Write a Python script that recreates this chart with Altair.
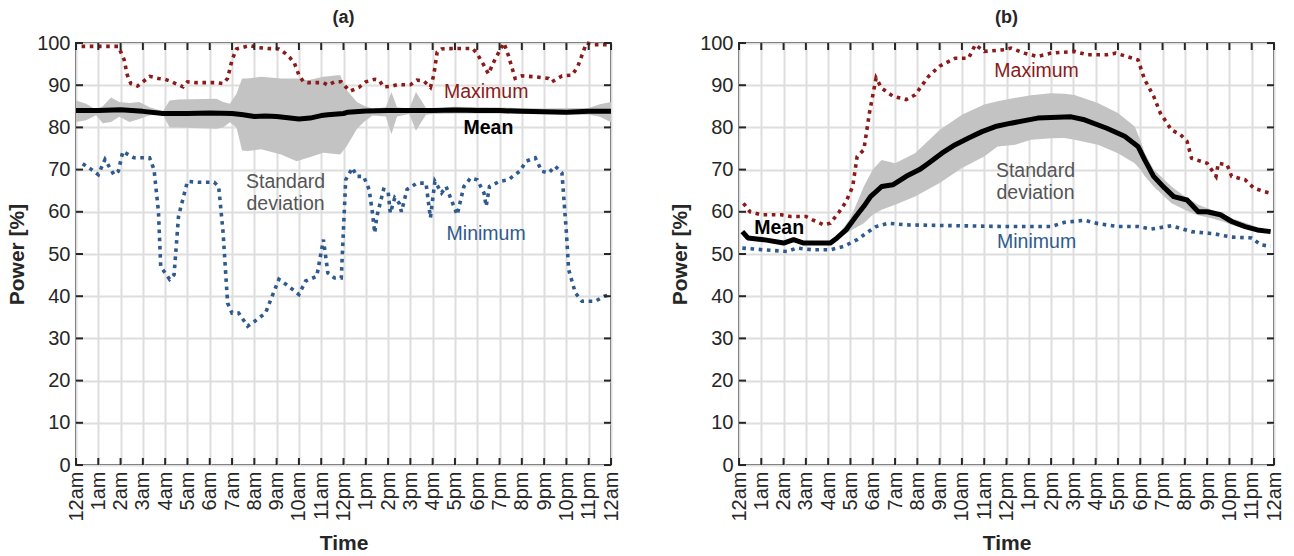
import json
import altair as alt
import pandas as pd

FONT = "Liberation Sans"
INK = "#262626"
RED = "#8b1a1a"
BLUE = "#2f5a8d"
BAND = "#c3c3c3"
GREY_TXT = "#555555"

tick_labels = ["12am", "1am", "2am", "3am", "4am", "5am", "6am", "7am", "8am", "9am",
               "10am", "11am", "12pm", "1pm", "2pm", "3pm", "4pm", "5pm", "6pm", "7pm",
               "8pm", "9pm", "10pm", "11pm", "12am"]
hour_ticks = list(range(25))
power_ticks = list(range(0, 101, 10))

# ---------------- panel (a) ----------------
max_a_h = [0.25, 1.0, 1.9, 2.16, 2.3, 2.46, 2.76, 3.0, 3.3, 3.7,
           4.0, 4.3, 4.8, 5.0, 5.4, 6.3, 6.6, 6.8, 7.0, 7.2,
           7.5, 7.8, 8.2, 8.6, 9.1, 9.4, 9.6, 9.8, 10.0, 10.2,
           10.4, 11.1, 11.3, 11.6, 11.9, 12.1, 12.3, 12.7, 13.0, 13.4,
           13.6, 13.8, 14.1, 14.4, 15.0, 15.3, 15.6, 15.9, 16.05, 16.2,
           16.4, 17.0, 17.8, 18.0, 18.3, 18.5, 18.8, 19.2, 19.4, 19.7,
           20.0, 20.6, 21.2, 21.35, 21.8, 22.25, 22.5, 22.9, 23.2, 24.0]
max_a_v = [99.2, 99.2, 99.2, 96, 92.4, 90.4, 89.8, 90.8, 92.1, 91.6,
           91.4, 90.8, 89.6, 90.8, 90.6, 90.6, 90.4, 91.6, 96, 98.6,
           99.0, 99.4, 98.9, 98.7, 98.6, 97.5, 96.5, 95.2, 92.4, 90.8,
           90.6, 90.6, 90, 90.8, 90.8, 89.6, 88.6, 89.5, 90.8, 91.4,
           91.2, 89.6, 89.7, 90.1, 90.1, 91.2, 91.0, 89.5, 92.4, 97.8,
           98.6, 98.7, 98.7, 97.4, 94.7, 92.7, 96.2, 100, 97, 91.6,
           92.2, 92, 91.6, 90.8, 92.2, 92.4, 94.3, 100, 99.6, 99.6]

min_a_h = [0.3, 0.7, 1.0, 1.3, 1.7, 1.9, 2.1, 2.6, 3.0, 3.3,
           3.5, 3.7, 3.8, 4.2, 4.4, 4.6, 5.0, 5.5, 6.2, 6.4,
           6.6, 6.8, 7.0, 7.3, 7.7, 8.0, 8.5, 8.8, 9.1, 9.5,
           10.0, 10.3, 10.8, 11.1, 11.3, 11.6, 11.9, 12.1, 12.4, 12.6,
           12.9, 13.15, 13.3, 13.4, 13.5, 13.8, 14.0, 14.1, 14.3, 14.5,
           14.6, 14.85, 15.3, 15.7, 15.9, 16.1, 16.4, 16.6, 17.1, 17.4,
           17.7, 18.0, 18.3, 18.4, 18.55, 19.0, 19.4, 19.9, 20.2, 20.6,
           20.9, 21.2, 21.5, 21.8, 22.0, 22.1, 22.4, 22.7, 23.3, 23.7,
           24.0]
min_a_v = [71.4, 70, 68.8, 72.4, 68.8, 69.6, 74.3, 72.8, 72.8, 72.8,
           70, 60, 47, 44, 45.1, 59, 67.2, 67, 67, 66,
           55, 38.4, 36, 36, 32.9, 34, 36, 40, 44, 42.5,
           40.4, 43.6, 44.7, 53.4, 45.5, 44.3, 44.3, 67.6, 70.4, 68.4,
           68.4, 65.3, 59.7, 55, 59, 65.3, 64.9, 59.7, 63.3, 62,
           60, 65.3, 66.8, 66.8, 58.6, 67.2, 64.5, 66, 59.3, 66,
           68, 67.6, 64.5, 61.3, 66, 67.2, 67.6, 69.6, 72, 72.8,
           69.6, 69.2, 70.8, 69.2, 55, 46.3, 40.8, 38.8, 38.8, 40,
           40.4]

mean_a_h = [0, 1, 2, 3, 3.9, 5, 6, 7, 7.5, 8, 8.5, 9, 9.5, 10, 10.5, 11, 11.3,
            12, 12.2, 13, 14, 15, 16, 17, 18, 19, 20, 21, 22, 23, 24]
mean_a_v = [84, 84, 84.2, 83.8, 83.3, 83.3, 83.4, 83.3, 83.0, 82.6, 82.7, 82.6, 82.3,
            82.0, 82.2, 82.8, 83.0, 83.3, 83.6, 83.9, 84, 84, 84, 84.1, 84, 84,
            83.8, 83.7, 83.6, 83.8, 83.8]

band_a_h = [0, 0.45, 0.9, 1.2, 1.57, 1.94, 2.4, 2.84, 3.3, 3.9,
            4.2, 4.6, 6.3, 6.6, 6.9, 7.2, 7.45, 7.7, 8.3, 9.2,
            9.9, 10.4, 11.1, 11.85, 12.15, 12.6, 12.9, 13.3, 13.9, 14.15,
            14.4, 14.95, 15.25, 15.7, 16.0, 17, 19, 21, 23, 23.5,
            24]
band_a_lo = [81.3, 81.7, 82.9, 81.0, 81.3, 82.5, 81.3, 82.0, 82.9, 83.0,
             80.0, 80.0, 79.7, 80.0, 81.2, 80.0, 74.5, 74.4, 74.8, 73.6,
             72.0, 72.8, 74.0, 73.6, 75.6, 79.6, 81.2, 82.8, 82.6, 78.4,
             82.6, 83.2, 79.2, 83.0, 83.2, 83.3, 83.3, 83.1, 83.0, 82.5,
             81.2]
band_a_hi = [86.4, 85.6, 84.2, 85.0, 87.1, 86.0, 85.8, 86.0, 84.8, 83.8,
             86.4, 86.6, 86.8, 86.0, 85.6, 88.0, 91.6, 91.6, 92.0, 91.6,
             91.6, 91.2, 92.0, 92.4, 88.8, 86.0, 85.2, 84.4, 84.8, 88.4,
             84.8, 84.4, 88.4, 84.6, 84.4, 84.9, 84.7, 84.5, 84.6, 85.5,
             86.0]

# ---------------- panel (b) ----------------
max_b_h = [0.2, 0.5, 1.0, 1.9, 2.3, 3.0, 3.3, 3.8, 4.1, 4.5,
           4.8, 5.1, 5.3, 5.6, 5.85, 6.15, 6.4, 6.9, 7.5, 7.9,
           8.5, 9.0, 9.7, 10.3, 10.6, 11.0, 11.9, 12.2, 12.8, 13.4,
           14.0, 15.05, 15.65, 16.5, 16.9, 17.9, 18.2, 18.6, 18.9, 19.4,
           19.8, 20.1, 20.3, 21.0, 21.4, 21.5, 21.9, 22.1, 22.7, 23.1,
           23.55, 23.85]
max_b_v = [62, 60, 59.3, 59.3, 58.9, 58.9, 58.1, 56.9, 57.3, 60,
           62.4, 66, 73.1, 74.7, 83.4, 91.7, 89.3, 87.4, 86.6, 87.7,
           92.1, 94.5, 96.4, 96.4, 99.6, 98, 98.4, 98.8, 97.6, 96.8,
           97.6, 98, 97.2, 97.2, 97.6, 96, 91.3, 87.4, 83.4, 79.4,
           78.3, 76.7, 72.7, 71.5, 68.4, 71.5, 71.1, 68.4, 67.6, 65.6,
           64.8, 64.4]

min_b_h = [0.15, 1.1, 2.15, 2.6, 3.3, 4.1, 4.7, 5.3, 5.7, 6.15,
           6.7, 7.5, 12.0, 14.0, 14.6, 15.5, 16.1, 17.0, 17.9, 18.5,
           19.4, 20.3, 21.3, 22.1, 23.0, 23.4, 23.85]
min_b_v = [51.4, 51, 50.6, 51.4, 51, 51, 51.8, 53.4, 54.9, 56.5,
           57.3, 56.9, 56.5, 56.5, 57.5, 58, 57.2, 56.5, 56.5, 55.9,
           56.7, 55.3, 54.8, 54, 53.8, 52.2, 51.8]

mean_b_h = [0.15, 0.4, 1.1, 2.0, 2.45, 2.9, 4.1, 4.4, 4.8, 5.3,
            5.6, 5.9, 6.4, 6.9, 7.5, 8.1, 8.5, 9.1, 9.7, 10.3,
            10.9, 11.5, 12.2, 13.4, 14.9, 15.5, 16.5, 17.3, 17.9, 18.2,
            18.6, 19.1, 19.5, 20.1, 20.6, 21.0, 21.6, 22.1, 22.7, 23.25,
            23.85]
mean_b_v = [55.3, 53.8, 53.4, 52.6, 53.4, 52.6, 52.6, 53.8, 55.7, 59.3,
            61.3, 63.6, 66, 66.4, 68.4, 70, 71.5, 73.9, 75.9, 77.5,
            79, 80.2, 81, 82.2, 82.5, 81.8, 79.8, 77.9, 75.5, 72.3,
            68.4, 65.6, 63.6, 62.8, 60, 60, 59.3, 57.7, 56.5, 55.7,
            55.3]

band_b_h = [4.3, 5.0, 5.6, 6.0, 6.4, 7.0, 7.9, 9.0, 10.0, 11.0,
            11.6, 12.4, 13.1, 14.0, 14.6, 15.05, 16.1, 17.0, 17.75, 18.0,
            18.2, 18.6, 19.4, 20.0, 20.3, 20.6, 21.2, 21.8, 22.1, 23.0,
            23.55]
band_b_lo = [53, 55.5, 57.3, 59.3, 60.5, 61.7, 63.6, 66.8, 70.4, 73.1,
             75.5, 75.9, 77.1, 77.4, 77.5, 77.1, 75.9, 73.9, 71.5, 70,
             68.5, 66, 62, 60.5, 59.7, 59.2, 58.5, 57.5, 56.9, 55.7,
             55.3]
band_b_hi = [53.5, 58.5, 66, 70, 72.3, 71.5, 73.9, 79.4, 83, 85.4,
             86.2, 87, 87.6, 88.1, 88.0, 87.7, 85.8, 83.4, 80.2, 77,
             74, 70, 66, 63.6, 62.7, 61.7, 60.5, 59.3, 58.5, 56.9,
             55.7]

# annotation texts per panel
notes_a_text = ["Maximum", "Mean", "Standard\ndeviation", "Minimum"]
notes_a_h = [18.4, 18.5, 9.4, 18.4]
notes_a_v = [88.4, 79.9, 67.1, 54.7]
notes_b_text = ["Maximum", "Mean", "Standard\ndeviation", "Minimum"]
notes_b_h = [13.35, 1.8, 13.3, 13.35]
notes_b_v = [93.4, 56.2, 69.6, 52.8]
notes_colors = [RED, "black", GREY_TXT, BLUE]
notes_weights = ["normal", "bold", "normal", "normal"]

W, H = 535, 422
TICK = 7
label_expr = json.dumps(tick_labels) + "[datum.value]"


def X(field):
    return alt.X(f"{field}:Q",
                 scale=alt.Scale(domain=[0, 24], nice=False, zero=False),
                 axis=alt.Axis(values=hour_ticks, labelExpr=label_expr, labelAngle=270,
                               title="Time"))


def Y(field):
    return alt.Y(f"{field}:Q",
                 scale=alt.Scale(domain=[0, 100], nice=False),
                 axis=alt.Axis(values=power_ticks, title="Power [%]"))


def panel(title, mx_h, mx_v, mn_h, mn_v, me_h, me_v, bd_h, bd_lo, bd_hi, nt_text, nt_h, nt_v):
    band = alt.Chart(pd.DataFrame({"h": bd_h, "lo": bd_lo, "hi": bd_hi})).mark_area(
        color=BAND, opacity=1).encode(x=X("h"), y=Y("lo"), y2="hi")
    mx = alt.Chart(pd.DataFrame({"h": mx_h, "v": mx_v})).mark_line(
        color=RED, strokeWidth=3.6, strokeDash=[3.6, 4.6], strokeCap="butt").encode(x=X("h"), y=Y("v"))
    mn = alt.Chart(pd.DataFrame({"h": mn_h, "v": mn_v})).mark_line(
        color=BLUE, strokeWidth=3.6, strokeDash=[3.6, 4.6], strokeCap="butt").encode(x=X("h"), y=Y("v"))
    me = alt.Chart(pd.DataFrame({"h": me_h, "v": me_v})).mark_line(
        color="black", strokeWidth=5, strokeJoin="round").encode(x=X("h"), y=Y("v"))
    nt = pd.DataFrame({"h": nt_h, "v": nt_v, "t": nt_text, "c": notes_colors, "w": notes_weights})
    texts = []
    for w in ["normal", "bold"]:
        sub = nt[nt["w"] == w]
        texts.append(alt.Chart(sub).mark_text(
            font=FONT, fontSize=19.5, fontWeight=w, lineBreak="\n", lineHeight=22,
            align="center", baseline="middle").encode(
            x=X("h"), y=Y("v"), text="t:N", color=alt.Color("c:N", scale=None)))
    xt = alt.Chart(pd.DataFrame({"t": hour_ticks}))
    yt = alt.Chart(pd.DataFrame({"t": power_ticks}))
    tick_style = dict(color=INK, strokeWidth=2)
    ticks = [
        xt.mark_rule(**tick_style).encode(x=X("t"), y=alt.value(H), y2=alt.value(H - TICK)),
        xt.mark_rule(**tick_style).encode(x=X("t"), y=alt.value(0), y2=alt.value(TICK)),
        yt.mark_rule(**tick_style).encode(y=Y("t"), x=alt.value(0), x2=alt.value(TICK)),
        yt.mark_rule(**tick_style).encode(y=Y("t"), x=alt.value(W - TICK), x2=alt.value(W)),
    ]
    return alt.layer(band, mx, mn, me, *texts, *ticks).properties(
        width=W, height=H,
        title=alt.TitleParams(title, font=FONT, fontSize=18, fontWeight="bold", color=INK,
                              anchor="middle", offset=6))


pa = panel("(a)", max_a_h, max_a_v, min_a_h, min_a_v, mean_a_h, mean_a_v,
           band_a_h, band_a_lo, band_a_hi, notes_a_text, notes_a_h, notes_a_v)
pb = panel("(b)", max_b_h, max_b_v, min_b_h, min_b_v, mean_b_h, mean_b_v,
           band_b_h, band_b_lo, band_b_hi, notes_b_text, notes_b_h, notes_b_v)

chart = alt.hconcat(pa, pb, spacing=46).properties(
    padding={"left": 5, "top": 8, "right": 2, "bottom": 0},
    background="white",
).configure_view(stroke=INK, strokeWidth=2).configure_axis(
    labelFont=FONT, labelFontSize=20, labelColor=INK, labelPadding=6,
    titleFont=FONT, titleFontSize=21, titleFontWeight="bold", titleColor=INK,
    grid=True, gridColor="#dedede", gridWidth=2, domain=False, ticks=False,
).configure_axisX(titlePadding=11).configure_axisY(titlePadding=9)

chart.save("out.html", embed_options={"renderer": "svg", "actions": False})
